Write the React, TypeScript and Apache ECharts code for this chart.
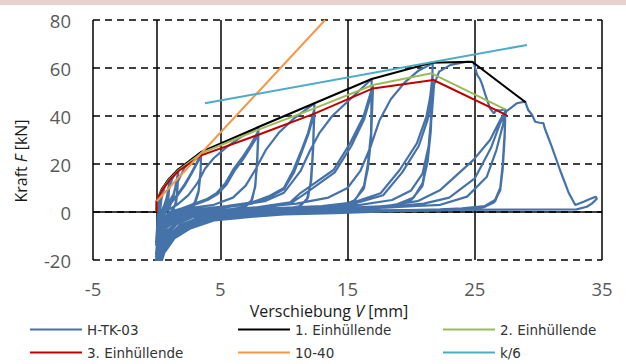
import React, { useEffect, useRef } from "react";
import * as echarts from "echarts";

// Axis settings
const X_MIN = -5, X_MAX = 35, X_STEP = 10;
const Y_MIN = -20, Y_MAX = 80, Y_STEP = 20;

const seriesNames = ["H-TK-03", "1. Einhüllende", "2. Einhüllende", "3. Einhüllende", "10-40", "k/6"];
const seriesColors = ["#4672aa", "#000000", "#9bbb59", "#c00000", "#f79646", "#4bacc6"];

// Envelopes
const envelope1 = [[0, 0], [0, 4.5], [0.4, 9.5], [1.0, 14], [1.7, 17.8], [3.5, 25], [8.0, 35.4], [12.4, 45.3], [16.9, 55.4], [21.6, 62.2], [24.8, 62.6], [29.0, 45.7]];
const envelope2 = [[0, 0], [0, 4.5], [0.4, 9], [1.0, 13.6], [1.7, 17.3], [3.5, 24.5], [8.0, 34.3], [12.4, 43.2], [17.0, 52.9], [21.6, 57.8], [27.4, 42.8]];
const envelope3 = [[0, 0], [0, 4.5], [0.4, 8.8], [1.0, 13.2], [1.7, 17], [3.5, 23.6], [8.0, 32.2], [12.4, 41], [17.0, 51.5], [21.75, 55], [27.5, 40.4]];
const line1040 = [[0, 4.5], [13.24, 80]];
const lineK6 = [[3.8, 45.3], [29.1, 69.6]];

// Hysteresis H-TK-03 (cycle by cycle)
const loadInitial = [[0, 0], [0.05, 3], [0.2, 6], [0.4, 8.5]];
const cycles04 = [
  [0.35, 4], [0.25, 0], [0.12, -5], [0, -12],
  [0.1, -3], [0.2, 2], [0.3, 5], [0.4, 8],
  [0.34, 3.5], [0.24, -0.5], [0.1, -6], [-0.05, -13],
  [0.1, -2], [0.22, 2.5], [0.32, 5], [0.4, 7.7],
  [0.33, 3], [0.22, -1], [0.08, -7], [-0.05, -14],
];
const cycles10 = [
  [0.1, -4], [0.25, 1], [0.4, 6], [0.6, 10], [0.8, 12.5], [1.0, 14],
  [0.95, 8], [0.85, 3], [0.6, 0], [0.35, -3], [0.15, -9], [0, -17],
  [0.15, -5], [0.35, 0], [0.55, 2], [0.75, 5], [0.9, 9], [1.0, 13.3],
  [0.95, 7.5], [0.85, 2.5], [0.6, -0.5], [0.3, -4], [0.12, -10], [-0.05, -18],
  [0.15, -5], [0.35, -0.5], [0.55, 1.5], [0.75, 4.5], [0.9, 8.5], [1.0, 12.8],
  [0.95, 7], [0.83, 2], [0.6, -1], [0.3, -4.5], [0.1, -11], [-0.05, -19],
];
const cycles17 = [
  [0.1, -8], [0.3, -1], [0.6, 3], [0.8, 6], [1.0, 10], [1.2, 13.5], [1.45, 16], [1.7, 17.8],
  [1.65, 11], [1.55, 5], [1.35, 1.5], [1.0, -0.5], [0.6, -3], [0.3, -8], [0.1, -15], [-0.05, -22],
  [0.15, -10], [0.35, -2], [0.7, 1], [1.0, 2.5], [1.25, 5.5], [1.45, 10], [1.6, 14], [1.7, 17.2],
  [1.65, 10.5], [1.55, 4.5], [1.3, 1], [0.95, -1], [0.55, -3.5], [0.25, -9], [0.08, -16], [-0.1, -23],
  [0.15, -10], [0.35, -2.5], [0.7, 0.5], [1.0, 2], [1.25, 5], [1.45, 9.5], [1.6, 13.5], [1.7, 16.6],
  [1.64, 10], [1.53, 4], [1.3, 0.8], [0.9, -1.2], [0.5, -4], [0.22, -10], [0.06, -17], [-0.1, -24],
];
const cycles35 = [
  [0.15, -10], [0.4, -1], [0.8, 3], [1.3, 7], [1.7, 13], [2.2, 18.5], [2.8, 22], [3.5, 25],
  [3.45, 17], [3.3, 9], [3.0, 4], [2.5, 1.5], [1.8, 0], [1.1, -1.5], [0.6, -4], [0.3, -9], [0.1, -16], [-0.1, -24],
  [0.2, -9], [0.5, 1.5], [1.0, 3.5], [1.6, 7], [2.2, 11.5], [2.7, 16], [3.1, 20], [3.5, 24.3],
  [3.45, 16], [3.3, 8.5], [3.0, 3.5], [2.5, 1], [1.8, -0.5], [1.1, -2], [0.6, -5], [0.3, -10], [0.1, -17], [-0.1, -25],
  [0.2, -10], [0.5, 1], [1.0, 3], [1.6, 6.5], [2.2, 11], [2.7, 15.5], [3.1, 19.5], [3.5, 23.6],
  [3.44, 15.5], [3.28, 8], [2.98, 3], [2.5, 0.8], [1.8, -0.8], [1.1, -2.3], [0.6, -5.5], [0.3, -11], [0.1, -18], [-0.1, -26],
];
const cycles80 = [
  [0.1, -12], [0.35, -3], [0.8, 0.5], [1.6, 3], [2.5, 7], [3.2, 12], [3.8, 18], [4.5, 22.5], [5.5, 27], [6.7, 31.5], [8.0, 35.4],
  [7.9, 22], [7.75, 11], [7.5, 5], [6.8, 2], [5.5, 0.8], [4, 0], [2.8, -1.5], [1.6, -4], [0.8, -8], [0.35, -14], [0.05, -25],
  [0.2, -12], [0.5, -3.5], [1.0, 0], [2.0, 1.5], [3.0, 3.5], [4.0, 5.5], [4.7, 7.8], [5.4, 12], [6.0, 17.5], [6.7, 22.5], [7.3, 27.2], [8.0, 33.8],
  [7.9, 21], [7.75, 10.5], [7.45, 4.5], [6.8, 1.5], [5.5, 0.3], [4, -0.5], [2.8, -2], [1.6, -4.5], [0.8, -9], [0.35, -15], [0, -26],
  [0.2, -12], [0.5, -4], [1.0, -0.5], [2.0, 1], [3.0, 3], [4.0, 5], [4.8, 7.5], [5.5, 11.5], [6.1, 17], [6.8, 22], [7.4, 27], [8.0, 32.2],
  [7.9, 20], [7.72, 10], [7.4, 4], [6.7, 1.2], [5.4, 0], [4, -0.8], [2.8, -2.3], [1.6, -5], [0.8, -9.5], [0.3, -16], [-0.05, -27],
];
const cycles124 = [
  [0.15, -12], [0.45, -3.5], [1.0, 0], [2.5, 1.5], [4.5, 3], [6, 6], [7, 11], [7.8, 18], [8.6, 26], [9.6, 33], [10.8, 39], [12.4, 45.3],
  [12.3, 28], [12.15, 14], [11.9, 6], [11.3, 2.5], [10, 1.2], [8, 0.5], [6, -0.5], [4.5, -1.5], [3, -3], [1.8, -5.5], [0.9, -10], [0.4, -16], [0.05, -26],
  [0.25, -13], [0.6, -4], [1.2, -0.5], [3, 1], [5.5, 2.5], [7.5, 4], [8.8, 6.5], [10, 10], [10.75, 17.5], [11.4, 26], [11.9, 33], [12.4, 43],
  [12.3, 26], [12.15, 13], [11.85, 5.5], [11.2, 2], [10, 0.8], [8, 0], [6, -1], [4.5, -2], [3, -3.5], [1.8, -6], [0.9, -10.5], [0.4, -17], [0, -27],
  [0.25, -13], [0.6, -4.5], [1.2, -1], [3, 0.5], [5.5, 2], [7.5, 3.5], [8.8, 6], [10, 9.5], [10.8, 16.5], [11.4, 25], [11.9, 32], [12.4, 41.2],
  [12.28, 25], [12.1, 12], [11.8, 5], [11.1, 1.8], [10, 0.5], [8, -0.3], [6, -1.3], [4.5, -2.3], [3, -4], [1.8, -6.5], [0.9, -11], [0.35, -18], [-0.05, -28],
];
const cycles170 = [
  [0.2, -14], [0.5, -5], [1.1, -1], [3, 1], [6, 2.5], [8.5, 4.5], [10, 8], [11.3, 17], [12, 25], [12.8, 33], [13.8, 40], [15.2, 47], [16.9, 55.4],
  [16.85, 33], [16.6, 20], [16.3, 11], [15.6, 5], [14.5, 2.5], [12, 1.2], [9, 0.3], [6.6, -1], [4.5, -2], [2.6, -4.5], [1.4, -8], [0.6, -13], [0.2, -20], [0, -27],
  [0.3, -14], [0.7, -5], [1.5, -1.5], [4, 0.5], [8, 2], [10.5, 4], [11.3, 7.9], [13.9, 17.5], [15.2, 28.6], [16.25, 39.7], [17, 52.9],
  [16.85, 31], [16.6, 19], [16.3, 10], [15.5, 4.5], [14.3, 2], [12, 0.8], [9, 0], [6.6, -1.5], [4.5, -2.5], [2.6, -5.5], [1.4, -9], [0.6, -14], [0.2, -21], [-0.05, -28],
  [0.3, -14], [0.7, -5.5], [1.5, -2], [4, 0], [8, 1.5], [10.5, 3.5], [11.5, 7], [14, 16.5], [15.3, 27.5], [16.3, 38.5], [17, 51.5],
  [16.85, 30], [16.6, 18], [16.25, 9.5], [15.4, 4], [14.2, 1.8], [12, 0.5], [9, -0.3], [6.6, -2], [4.5, -3], [2.6, -6], [1.4, -10], [0.6, -15], [0.25, -21], [-0.05, -28],
];
const cycles217 = [
  [0.3, -15], [0.7, -5], [1.5, -1.5], [4, 0.5], [8, 2], [11, 3.5], [13.5, 6], [15, 10], [16, 17], [16.8, 27], [17.5, 38], [18.4, 47], [19.5, 54], [20.6, 59], [21.7, 62],
  [21.55, 38], [21.3, 23], [20.9, 12], [20.2, 6], [18.8, 3], [16, 1.5], [12, 0.5], [9, -0.3], [6.6, -1.5], [4.5, -2.5], [2.6, -5.5], [1.4, -9], [0.6, -14], [0.2, -21], [0, -28],
  [0.35, -15], [0.8, -5.5], [1.6, -2], [4.5, 0], [9, 1.5], [13, 2.5], [15.5, 4], [17.6, 7.8], [19.1, 17.5], [20.45, 28.6], [21.2, 39.7], [21.5, 48], [21.7, 57.8],
  [21.55, 36], [21.3, 22], [20.9, 11], [20.1, 5.5], [18.6, 2.5], [16, 1], [12, 0], [9, -0.8], [6.6, -2], [4.5, -3], [2.6, -6], [1.4, -10], [0.6, -15], [0.25, -22], [-0.05, -29],
  [0.35, -15], [0.8, -6], [1.6, -2.5], [4.5, -0.5], [9, 1], [13, 2], [15.5, 3.5], [17.8, 7], [19.3, 16.5], [20.6, 27.5], [21.3, 38.5], [21.55, 46], [21.7, 55],
  [21.55, 34], [21.3, 21], [20.85, 10.5], [20, 5], [18.5, 2.2], [16, 0.7], [12, -0.3], [9, -1], [6.6, -2.5], [4.5, -3.5], [2.6, -6.5], [1.4, -10.5], [0.6, -16], [0.25, -22], [-0.05, -29],
];
const monotonic25 = [
  [0.35, -16], [0.8, -6], [1.6, -2.5], [4.5, -0.5], [9, 1], [13, 2], [16, 3], [18.5, 5], [20, 9], [20.9, 16], [21.4, 28], [21.65, 42], [21.8, 53],
  [22.2, 58.5], [23.1, 61.3], [24.4, 62.6], [24.9, 62.4], [25.0, 60.5], [25.2, 57], [25.4, 55.5], [25.55, 53.6], [25.8, 49.4], [26.2, 43.2], [26.5, 41.1],
  [26.7, 42.5], [27.0, 42.3], [27.4, 42.8],
];
const cycles274 = [
  [27.35, 33], [27.2, 20], [27.0, 10], [26.6, 5], [25.8, 2.5], [24, 1.5], [22.3, 1.1], [18, 0.6], [14, 0], [10, -0.5], [7, -1.5], [4.5, -2.8], [2.6, -6], [1.4, -10], [0.6, -16], [0.25, -22], [-0.05, -30],
  [0.35, -16], [0.8, -6], [1.6, -2.5], [4.5, -0.5], [9, 0.8], [14, 1.5], [18, 2.5], [20.5, 4.5], [22.3, 9.2], [24.9, 21.7], [26.2, 30], [27.0, 38.3], [27.4, 42],
  [27.35, 32], [27.2, 19], [27.0, 9.5], [26.6, 4.5], [25.8, 2.2], [24, 1.2], [22.3, 0.9], [18, 0.3], [14, -0.3], [10, -0.8], [7, -2], [4.5, -3.2], [2.6, -6.5], [1.4, -10.5], [0.6, -16.5], [0.25, -22], [-0.05, -30],
  [0.35, -16], [0.8, -6.5], [1.6, -3], [4.5, -1], [9, 0.5], [14, 1.2], [18, 1.8], [20.5, 2.5], [22.3, 3], [24.4, 6.4], [25.95, 14.7], [26.7, 25.8], [27.2, 36], [27.4, 40.4],
  [27.35, 31], [27.2, 18], [27.0, 9], [26.5, 4], [25.7, 2], [24, 1], [22.3, 0.7], [18, 0.2], [14, -0.5], [10, -1], [7, -2.2], [4.5, -3.5], [2.6, -7], [1.4, -11], [0.6, -17], [0.25, -23], [-0.05, -30],
];
const finalRun = [
  [0.35, -16], [0.8, -6.5], [1.6, -3], [4.5, -1], [9, 0.5], [14, 1.2], [18, 2], [21, 3.5], [23, 6], [25, 14], [26.3, 27], [27, 37], [27.5, 42],
  [28.3, 45.3], [28.96, 46], [29.2, 42.5], [29.5, 40.5], [29.75, 37.6], [30.1, 37.2], [30.4, 37], [30.5, 34.9], [31.05, 27.2], [31.7, 17.5],
  [32.4, 7.8], [32.9, 2.9], [33.55, 4.3], [34.1, 5.5], [34.5, 6.4], [34.6, 5.5], [34.2, 3.5], [33.8, 2.2], [33.0, 1.1], [28, 1.0], [22, 0.9], [16, 0.7], [10, 0.5],
];

const hysteresis = [
  ...loadInitial, ...cycles04, ...cycles10, ...cycles17, ...cycles35, ...cycles80,
  ...cycles124, ...cycles170, ...cycles217, ...monotonic25, ...cycles274, ...finalRun,
];

const seriesData = [hysteresis, envelope1, envelope2, envelope3, line1040, lineK6];

// legend placement: [series index, left, top]
const legendSlots = [
  [0, 30, 322], [1, 238, 322], [2, 443, 322],
  [3, 30, 345], [4, 238, 345], [5, 443, 345],
];

export default function App() {
  const ref = useRef<HTMLDivElement>(null);

  useEffect(() => {
    document.body.style.margin = "0";
    if (!ref.current) return;
    const chart = echarts.init(ref.current, null, { renderer: "svg" });
    const labelFont = { color: "#595959", fontSize: 18.5, lineHeight: 18, fontFamily: "Open Sans" };
    const titleRich = {
      a: { fontSize: 16, lineHeight: 16, fontFamily: "Open Sans", fill: "#1a1a1a" },
      b: { fontSize: 16, lineHeight: 16, fontFamily: "Open Sans", fontStyle: "italic", fill: "#1a1a1a" },
    };
    const option: any = {
      animation: false,
      backgroundColor: "#ffffff",
      grid: { left: 93, right: 24, top: 20, bottom: 104, containLabel: false },
      xAxis: {
        type: "value",
        min: X_MIN,
        max: X_MAX,
        interval: X_STEP,
        axisLine: { show: false },
        axisTick: { show: false },
        axisLabel: { ...labelFont, margin: 19 },
        splitLine: { show: true, lineStyle: { color: "#000", width: 1.5, type: "solid" } },
      },
      yAxis: {
        type: "value",
        min: Y_MIN,
        max: Y_MAX,
        interval: Y_STEP,
        axisLine: { show: false },
        axisTick: { show: false },
        axisLabel: { ...labelFont, margin: 22 },
        splitLine: { show: true, lineStyle: { color: "#000", width: 1.5, type: [7, 5] } },
      },
      legend: legendSlots.map(([idx, left, top]) => ({
        orient: "horizontal",
        left,
        top,
        padding: 0,
        itemWidth: 52,
        itemHeight: 2,
        icon: "rect",
        selectedMode: false,
        data: [seriesNames[idx]],
        textStyle: { fontSize: 13.5, lineHeight: 15, fontFamily: "DejaVu Sans", color: "#333" },
      })),
      graphic: [
        { type: "rect", shape: { x: 0, y: 0, width: 626, height: 5 }, style: { fill: "#e8d0d0" }, silent: true },
        {
          type: "text",
          x: 329,
          y: 311,
          silent: true,
          style: {
            text: "{a|Verschiebung }{b|V}{a| [mm]}",
            align: "center",
            verticalAlign: "middle",
            fill: "#1a1a1a",
            fontSize: 16,
            lineHeight: 16,
            fontFamily: "Open Sans",
            rich: titleRich,
          },
        },
        {
          type: "text",
          x: 21,
          y: 161,
          rotation: Math.PI / 2,
          silent: true,
          style: {
            text: "{a|Kraft }{b|F}{a| [kN]}",
            align: "center",
            verticalAlign: "middle",
            fill: "#1a1a1a",
            fontSize: 16,
            lineHeight: 16,
            fontFamily: "Open Sans",
            rich: titleRich,
          },
        },
      ],
      series: [
        {
          type: "line",
          name: "__axes",
          data: [],
          silent: true,
          markLine: {
            silent: true,
            z: 1,
            symbol: "none",
            label: { show: false },
            lineStyle: { color: "#000", width: 1.5, type: "solid" },
            data: [{ xAxis: 0 }, { yAxis: 0 }],
          },
        },
        ...seriesNames.map((name, i) => ({
          type: "line",
          name,
          data: seriesData[i],
          color: seriesColors[i],
          showSymbol: false,
          symbol: "none",
          z: 3 + i,
          lineStyle: { color: seriesColors[i], width: i === 0 ? 2.2 : 2 },
        })),
      ],
    };
    chart.setOption(option);
    return () => chart.dispose();
  }, []);

  return <div ref={ref} style={{ width: 626, height: 364 }} />;
}
